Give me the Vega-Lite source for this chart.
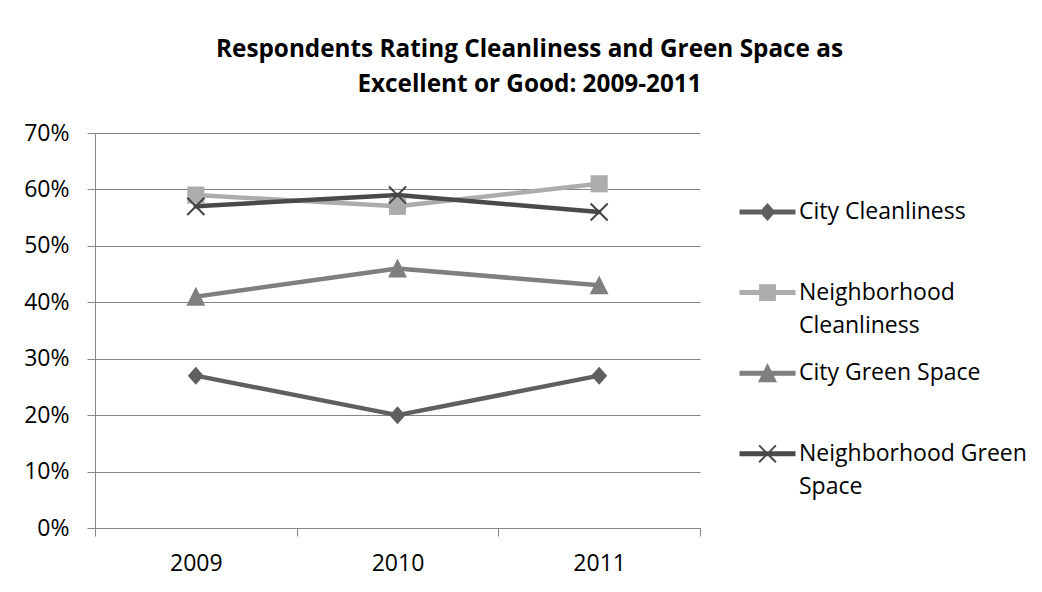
{
  "$schema": "https://vega.github.io/schema/vega-lite/v6.json",
  "width": 605,
  "height": 395,
  "autosize": {"type": "none"},
  "padding": {"left": 95, "top": 133, "right": 342, "bottom": 64},
  "background": "white",
  "config": {
    "view": {"stroke": null},
    "font": "Open Sans",
    "style": {"guide-label": {"lineHeight": 33}},
    "legend": {"labelFont": "Open Sans", "labelFontSize": 23, "labelColor": "#000000", "labelLimit": 500, "padding": 0}
  },
  "title": {
    "text": ["Respondents Rating Cleanliness and Green Space as", "Excellent or Good: 2009-2011"],
    "font": "Open Sans",
    "fontSize": 24.3,
    "fontWeight": "bold",
    "color": "#000000",
    "lineHeight": 35,
    "anchor": "middle",
    "frame": "group",
    "baseline": "bottom",
    "dx": 132,
    "offset": 1
  },
  "data": {
    "values": [
      {"series": "City Cleanliness", "year": "2009", "value": 0.27},
      {"series": "City Cleanliness", "year": "2010", "value": 0.20},
      {"series": "City Cleanliness", "year": "2011", "value": 0.27},
      {"series": "Neighborhood Cleanliness", "year": "2009", "value": 0.59},
      {"series": "Neighborhood Cleanliness", "year": "2010", "value": 0.57},
      {"series": "Neighborhood Cleanliness", "year": "2011", "value": 0.61},
      {"series": "City Green Space", "year": "2009", "value": 0.41},
      {"series": "City Green Space", "year": "2010", "value": 0.46},
      {"series": "City Green Space", "year": "2011", "value": 0.43},
      {"series": "Neighborhood Green Space", "year": "2009", "value": 0.57},
      {"series": "Neighborhood Green Space", "year": "2010", "value": 0.59},
      {"series": "Neighborhood Green Space", "year": "2011", "value": 0.56}
    ]
  },
  "encoding": {
    "x": {
      "field": "year",
      "type": "ordinal",
      "scale": {"type": "band", "paddingInner": 0, "paddingOuter": 0},
      "axis": {
        "title": null,
        "labelAngle": 0,
        "tickBand": "extent",
        "grid": false,
        "domainColor": "#868686",
        "domainWidth": 1,
        "tickColor": "#868686",
        "tickSize": 8,
        "tickWidth": 1,
        "labelFont": "Open Sans",
        "labelFontSize": 23,
        "labelColor": "#000000",
        "labelPadding": 16,
        "labelFlush": false,
        "labelOverlap": false
      }
    },
    "y": {
      "field": "value",
      "type": "quantitative",
      "scale": {"domain": [0, 0.7], "nice": false},
      "axis": {
        "title": null,
        "values": [0, 0.1, 0.2, 0.3, 0.4, 0.5, 0.6, 0.7],
        "format": ".0%",
        "grid": true,
        "gridColor": "#868686",
        "gridWidth": 1,
        "domainColor": "#868686",
        "domainWidth": 1,
        "tickColor": "#868686",
        "tickSize": 8,
        "tickWidth": 1,
        "labelFont": "Open Sans",
        "labelFontSize": 23,
        "labelColor": "#000000",
        "labelPadding": 18,
        "labelFlush": false,
        "labelOverlap": false
      }
    }
  },
  "layer": [
    {
      "mark": {"type": "line", "strokeWidth": 4.5, "strokeCap": "round", "strokeJoin": "round"},
      "encoding": {
        "color": {
          "field": "series",
          "type": "nominal",
          "sort": null,
          "scale": {
            "domain": ["City Cleanliness", "Neighborhood Cleanliness", "City Green Space", "Neighborhood Green Space"],
            "range": ["#5f5f5f", "#acacac", "#7f7f7f", "#4a4a4a"]
          }
        }
      }
    },
    {
      "transform": [{"filter": "datum.series == 'City Cleanliness'"}],
      "mark": {"type": "point", "filled": true, "size": 324, "opacity": 1, "color": "#5f5f5f", "shape": "M0,-1L0.89,0L0,1L-0.89,0Z"}
    },
    {
      "transform": [{"filter": "datum.series == 'Neighborhood Cleanliness'"}],
      "mark": {"type": "point", "filled": true, "size": 324, "opacity": 1, "color": "#acacac", "shape": "M-0.95,-0.95H0.95V0.95H-0.95Z"}
    },
    {
      "transform": [{"filter": "datum.series == 'City Green Space'"}],
      "mark": {"type": "point", "filled": true, "size": 324, "opacity": 1, "color": "#7f7f7f", "shape": "M0,-1.1L1.05,1H-1.05Z"}
    },
    {
      "transform": [{"filter": "datum.series == 'Neighborhood Green Space'"}],
      "mark": {"type": "point", "filled": true, "size": 324, "opacity": 1, "color": "#454545", "shape": "M-0.87,-1.03L1.03,0.87L0.87,1.03L-1.03,-0.87ZM1.03,-0.87L-0.87,1.03L-1.03,0.87L0.87,-1.03Z"}
    },
    {
      "mark": {"type": "point", "filled": true, "size": 3136, "opacity": 0},
      "encoding": {
        "color": {
          "field": "series",
          "type": "nominal",
          "sort": null,
          "scale": {
            "domain": ["City Cleanliness", "Neighborhood Cleanliness", "City Green Space", "Neighborhood Green Space"],
            "range": ["#5f5f5f", "#acacac", "#7f7f7f", "#4a4a4a"]
          },
          "legend": {
            "title": null,
            "orient": "none",
            "direction": "vertical",
            "legendX": 644,
            "legendY": 50.5,
            "symbolSize": 3136,
            "symbolStrokeWidth": 0.001,
            "symbolOpacity": 1,
            "labelOffset": 3,
            "rowPadding": 1.6,
            "labelExpr": "datum.label == 'Neighborhood Cleanliness' ? ['Neighborhood', 'Cleanliness'] : datum.label == 'Neighborhood Green Space' ? ['Neighborhood Green', 'Space'] : datum.label"
          }
        },
        "shape": {
          "field": "series",
          "type": "nominal",
          "sort": null,
          "scale": {
            "domain": ["City Cleanliness", "Neighborhood Cleanliness", "City Green Space", "Neighborhood Green Space"],
            "range": [
              "M0,-1M0,1.8M-1,-0.09H1V0.09H-1ZM0,-0.32L0.29,0L0,0.32L-0.29,0Z",
              "M0,-1M0,1.8M-1,-0.09H1V0.09H-1ZM-0.3,-0.3H0.3V0.3H-0.3Z",
              "M0,-1M0,1.8M-1,-0.09H1V0.09H-1ZM0,-0.36L0.34,0.32H-0.34Z",
              "M0,-1M0,1.8M-1,-0.09H1V0.09H-1ZM-0.275,-0.325L0.325,0.275L0.275,0.325L-0.325,-0.275ZM0.325,-0.275L-0.275,0.325L-0.325,0.275L0.275,-0.325Z"
            ]
          },
          "legend": {
            "title": null,
            "orient": "none",
            "direction": "vertical",
            "legendX": 644,
            "legendY": 50.5,
            "symbolSize": 3136,
            "symbolStrokeWidth": 0.001,
            "symbolOpacity": 1,
            "labelOffset": 3,
            "rowPadding": 1.6,
            "labelExpr": "datum.label == 'Neighborhood Cleanliness' ? ['Neighborhood', 'Cleanliness'] : datum.label == 'Neighborhood Green Space' ? ['Neighborhood Green', 'Space'] : datum.label"
          }
        }
      }
    }
  ]
}
